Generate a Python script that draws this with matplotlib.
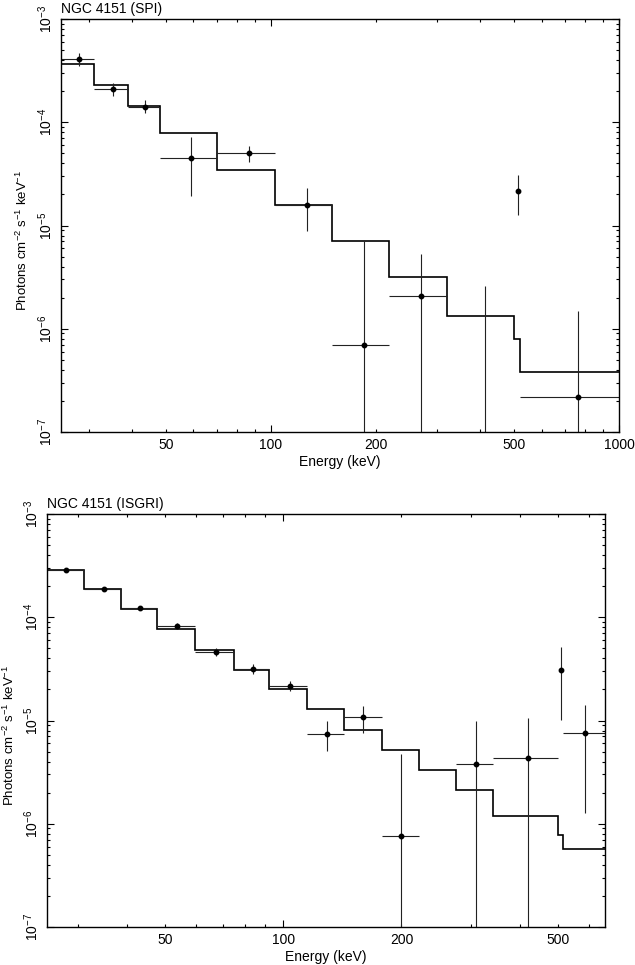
import matplotlib
matplotlib.use("Agg")
import matplotlib.pyplot as plt
import numpy as np
from matplotlib.ticker import LogLocator, FuncFormatter, NullFormatter

plt.rcParams['font.family'] = ['Liberation Sans', 'DejaVu Sans']
plt.rcParams['mathtext.fontset'] = 'custom'
plt.rcParams['mathtext.rm'] = 'Liberation Sans'
plt.rcParams['mathtext.it'] = 'Liberation Sans:italic'
plt.rcParams['font.size'] = 10

# --- SPI (top panel) ---
spi_edges = [25, 31, 39, 48, 70, 103, 150, 219, 321, 500, 520, 1000]
spi_model = [3.66e-4, 2.28e-4, 1.43e-4, 7.8e-5, 3.47e-5, 1.59e-5,
             7.08e-6, 3.15e-6, 1.33e-6, 7.9e-7, 3.84e-7]
spi_e = [28.1, 35.2, 43.6, 59.1, 86.7, 127, 185, 270, 411, 512, 761]
spi_elo = [25, 31, 39, 48, 70, 103, 150, 219, 321, 509, 520]
spi_ehi = [31, 39, 48, 70, 103, 150, 219, 321, 500, 515, 1000]
spi_f = [4.10e-4, 2.08e-4, 1.42e-4, 4.54e-5, 5.04e-5, 1.59e-5,
         6.97e-7, 2.09e-6, 1e-9, 2.16e-5, 2.20e-7]
spi_flo = [3.53e-4, 1.81e-4, 1.22e-4, 1.95e-5, 4.09e-5, 8.85e-6,
           1e-9, 1e-9, 1e-9, 1.26e-5, 1e-9]
spi_fhi = [4.66e-4, 2.38e-4, 1.63e-4, 7.14e-5, 5.93e-5, 2.32e-5,
           7.08e-6, 5.26e-6, 2.59e-6, 3.08e-5, 1.50e-6]

# --- ISGRI (bottom panel) ---
isg_edges = [25, 31, 38.6, 47.8, 59.6, 74.9, 92.1, 115, 143, 178, 222,
             276, 343, 500, 515, 660]
isg_model = [2.90e-4, 1.87e-4, 1.21e-4, 7.76e-5, 4.79e-5, 3.10e-5, 2.00e-5,
             1.28e-5, 8.18e-6, 5.23e-6, 3.34e-6, 2.14e-6, 1.18e-6, 7.77e-7,
             5.75e-7]
isg_e = [27.9, 34.9, 43.2, 53.6, 67.3, 83.7, 103.8, 129, 160, 200, 309, 420,
         511, 587]
isg_elo = [25, 31, 38.6, 47.8, 59.6, 74.9, 92.1, 115, 143, 178, 276, 343,
           509, 515]
isg_ehi = [31, 38.6, 47.8, 59.6, 74.9, 92.1, 115, 143, 178, 222, 343, 500,
           514, 660]
isg_f = [2.84e-4, 1.88e-4, 1.22e-4, 8.19e-5, 4.65e-5, 3.18e-5, 2.17e-5,
         7.48e-6, 1.07e-5, 7.64e-7, 3.77e-6, 4.31e-6, 3.08e-5, 7.64e-6]
isg_flo = [2.74e-4, 1.83e-4, 1.18e-4, 7.7e-5, 4.21e-5, 2.80e-5, 1.91e-5,
           5.04e-6, 7.53e-6, 1e-9, 1e-9, 1e-9, 1.02e-5, 1.27e-6]
isg_fhi = [2.94e-4, 1.93e-4, 1.26e-4, 8.7e-5, 5.08e-5, 3.50e-5, 2.44e-5,
           9.84e-6, 1.39e-5, 4.75e-6, 1.0e-5, 1.06e-5, 5.15e-5, 1.42e-5]

x_labels = [50, 100, 200, 500, 1000]
ylab = 'Photons cm$^{-2}$ s$^{-1}$ keV$^{-1}$'

fig = plt.figure(figsize=(6.35, 9.65), dpi=100)
ax1 = fig.add_axes([61 / 635, 1 - 432 / 965, 558 / 635, 413 / 965])
ax2 = fig.add_axes([47 / 635, 1 - 927 / 965, 558 / 635, 413 / 965])


def xfmt(v, pos):
    for lab in x_labels:
        if abs(v - lab) < 1e-6 * lab:
            return str(lab)
    return ''


def panel(ax, edges, model, e, elo, ehi, f, flo, fhi, xmax, title, lab_x):
    e = np.array(e); f = np.array(f)
    ax.stairs(model, edges, baseline=None, color='black', lw=1.2)
    ax.errorbar(e, f, xerr=[e - np.array(elo), np.array(ehi) - e],
                yerr=[f - np.array(flo), np.array(fhi) - f],
                fmt='o', ms=3.2, color='black', ecolor='#222222',
                elinewidth=0.8, capsize=0)
    ax.set_xscale('log')
    ax.set_yscale('log')
    ax.set_xlim(25, xmax)
    ax.set_ylim(1e-7, 1e-3)
    ax.xaxis.set_major_locator(LogLocator(base=10, numticks=10))
    ax.xaxis.set_minor_locator(LogLocator(base=10, subs=np.arange(2, 10), numticks=20))
    ax.xaxis.set_major_formatter(FuncFormatter(xfmt))
    ax.xaxis.set_minor_formatter(FuncFormatter(xfmt))
    ax.yaxis.set_minor_locator(LogLocator(base=10, subs=np.arange(2, 10), numticks=20))
    ax.yaxis.set_minor_formatter(NullFormatter())
    ax.tick_params(which='both', direction='in', top=True, right=True,
                   width=0.8, labelsize=10)
    ax.tick_params(which='major', length=5)
    ax.tick_params(which='minor', length=2.5)
    ax.tick_params(axis='x', which='both', pad=4)
    ax.tick_params(axis='y', which='both', pad=4.5)
    for lab in ax.get_yticklabels():
        lab.set_rotation(90)
        lab.set_va('center')
    for s in ax.spines.values():
        s.set_linewidth(1.0)
    ax.set_xlabel('Energy (keV)', labelpad=2.5)
    ax.set_ylabel(ylab, fontsize=9.5)
    ax.yaxis.set_label_coords(lab_x, 0.465)
    ax.set_title(title, loc='left', pad=4, fontsize=10)


panel(ax1, spi_edges, spi_model, spi_e, spi_elo, spi_ehi, spi_f, spi_flo,
      spi_fhi, 1000, 'NGC 4151 (SPI)', -0.056)
panel(ax2, isg_edges, isg_model, isg_e, isg_elo, isg_ehi, isg_f, isg_flo,
      isg_fhi, 660, 'NGC 4151 (ISGRI)', -0.054)

fig.savefig('out.png', dpi=100)
